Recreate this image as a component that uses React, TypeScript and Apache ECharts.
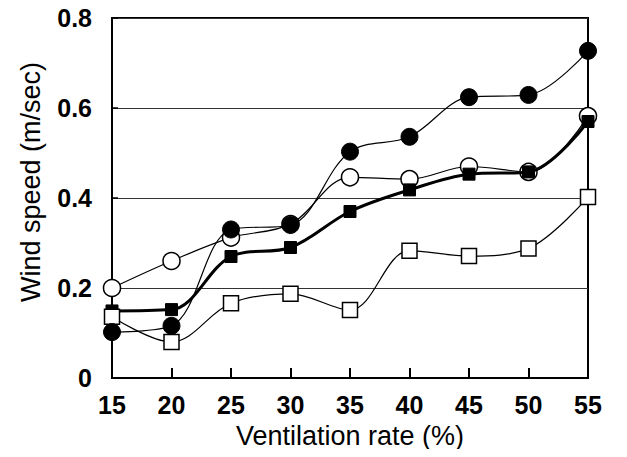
import React, { useEffect, useRef } from "react";
import * as echarts from "echarts";

const ventilationRates = [15, 20, 25, 30, 35, 40, 45, 50, 55];
const filledCircles = [0.102, 0.116, 0.33, 0.34, 0.503, 0.536, 0.624, 0.629, 0.727];
const openCircles = [0.2, 0.26, 0.312, 0.342, 0.446, 0.442, 0.47, 0.458, 0.582];
const filledSquares = [0.149, 0.152, 0.27, 0.29, 0.37, 0.418, 0.453, 0.458, 0.57];
const openSquares = [0.136, 0.08, 0.166, 0.187, 0.151, 0.283, 0.271, 0.288, 0.402];

const FONT = "'Liberation Sans', Arial, sans-serif";

function pairs(vals: number[]) {
  return ventilationRates.map((x, i) => [x, vals[i]]);
}

export default function App() {
  const ref = useRef<HTMLDivElement>(null);
  useEffect(() => {
    if (!ref.current) return;
    const chart = echarts.init(ref.current, null, { renderer: "svg" });
    const thin = { color: "#000", width: 1.2 };
    chart.setOption({
      animation: false,
      backgroundColor: "#fff",
      grid: {
        left: 112,
        right: 39,
        top: 18,
        bottom: 79,
        show: true,
        borderColor: "#000",
        borderWidth: 2,
      },
      xAxis: {
        type: "value",
        min: 15,
        max: 55,
        interval: 5,
        name: "Ventilation rate (%)",
        nameLocation: "middle",
        nameGap: 44,
        nameTextStyle: { fontFamily: FONT, fontSize: 27, color: "#000" },
        axisLine: { show: true, lineStyle: { color: "#000", width: 2 } },
        axisTick: { show: true, inside: true, length: 10, lineStyle: { color: "#000", width: 2 } },
        axisLabel: { fontFamily: FONT, fontSize: 25, fontWeight: "bold", color: "#000", margin: 14 },
        splitLine: { show: false },
      },
      yAxis: {
        type: "value",
        min: 0,
        max: 0.8,
        interval: 0.2,
        axisLine: { show: true, lineStyle: { color: "#000", width: 2 } },
        axisTick: { show: true, inside: true, length: 6, lineStyle: { color: "#000", width: 1.5 } },
        axisLabel: {
          fontFamily: FONT,
          fontSize: 25,
          fontWeight: "bold",
          color: "#000",
          margin: 20,
          formatter: (v: number) => (v === 0 ? "0" : v.toFixed(1)),
        },
        splitLine: { show: true, lineStyle: { color: "#333", width: 1 } },
      },
      graphic: [
        {
          type: "text",
          x: 31,
          y: 182,
          rotation: Math.PI / 2,
          style: {
            text: "Wind speed (m/sec)",
            fontFamily: FONT,
            fontSize: 27,
            fill: "#000",
            align: "center",
            verticalAlign: "middle",
          },
        },
      ],
      series: [
        {
          type: "line",
          data: pairs(openCircles),
          smooth: 0.35,
          symbol: "circle",
          symbolSize: 17,
          lineStyle: thin,
          itemStyle: { color: "#fff", borderColor: "#000", borderWidth: 1.5 },
          z: 2,
        },
        {
          type: "line",
          data: pairs(filledSquares),
          smooth: 0.35,
          symbol: "rect",
          symbolSize: 12,
          lineStyle: { color: "#000", width: 3 },
          itemStyle: { color: "#000", borderColor: "#000", borderWidth: 1 },
          z: 3,
        },
        {
          type: "line",
          data: pairs(openSquares),
          smooth: 0.35,
          symbol: "rect",
          symbolSize: 15,
          lineStyle: thin,
          itemStyle: { color: "#fff", borderColor: "#000", borderWidth: 1.5 },
          z: 4,
        },
        {
          type: "line",
          data: pairs(filledCircles),
          smooth: 0.35,
          symbol: "circle",
          symbolSize: 17,
          lineStyle: thin,
          itemStyle: { color: "#000", borderColor: "#000", borderWidth: 1 },
          z: 5,
        },
      ],
    });
    return () => chart.dispose();
  }, []);
  return <div ref={ref} style={{ width: 627, height: 457, margin: -8 }} />;
}
